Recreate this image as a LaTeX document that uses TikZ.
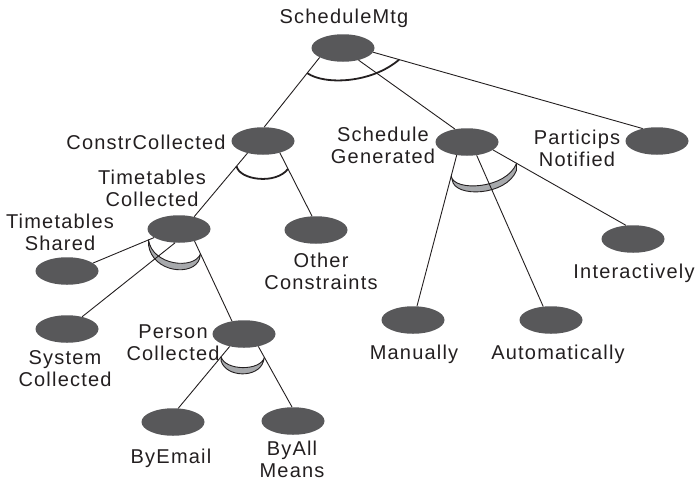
\documentclass[tikz,border=0pt]{standalone}
\usepackage{fontspec}
\setmainfont{Liberation Sans}[LetterSpace=6]
\usetikzlibrary{calc,shapes.geometric}
\definecolor{goalfill}{HTML}{58585A}
\definecolor{orfill}{HTML}{A7A9AC}
\definecolor{ink}{HTML}{231F20}
\begin{document}
\begin{tikzpicture}[x=1pt,y=-1pt,
  goal/.style={ellipse, fill=goalfill, minimum width=63pt, minimum height=27.5pt, inner sep=0pt},
  lbl/.style={inner sep=0pt, align=center, text=ink, font=\fontsize{20}{22.5}\selectfont},
  link/.style={draw=ink, line width=0.9pt},
  andarc/.style={draw=ink, line width=1.8pt},
  orband/.style={draw=ink, fill=orfill, line width=0.9pt, line join=round}]
\useasboundingbox (0,0) rectangle (695,482);

% goals
\node[goal] (mtg)    at (343,48)  {};
\node[goal] (constr) at (263,141) {};
\node[goal] (sched)  at (467,142) {};
\node[goal] (part)   at (657,141) {};
\node[goal] (ttc)    at (179,229) {};
\node[goal] (other)  at (316,230) {};
\node[goal] (tts)    at (67,271)  {};
\node[goal] (sys)    at (67,329)  {};
\node[goal] (person) at (244,334) {};
\node[goal] (inter)  at (633,239) {};
\node[goal] (man)    at (413,320) {};
\node[goal] (auto)   at (551,320) {};
\node[goal] (email)  at (173,422) {};
\node[goal] (all)    at (293,421) {};

% labels
\node[lbl, anchor=base]  (l-mtg)    at (344,23)  {ScheduleMtg};
\node[lbl, anchor=base]  (l-constr) at (146,149) {ConstrCollected};
\node[lbl, anchor=south] (l-ttc)    at (152,207) {Timetables\\Collected};
\node[lbl, anchor=south] (l-tts)    at (60,251)  {Timetables\\Shared};
\node[lbl, anchor=south] (l-sched)  at (383,164) {Schedule\\Generated};
\node[lbl, anchor=south] (l-part)   at (577,167) {Particips\\Notified};
\node[lbl, anchor=south] (l-other)  at (321,290) {Other\\Constraints};
\node[lbl, anchor=base]  (l-inter)  at (634,278) {Interactively};
\node[lbl, anchor=south] (l-person) at (173,361) {Person\\Collected};
\node[lbl, anchor=south] (l-sys)    at (65,387)  {System\\Collected};
\node[lbl, anchor=base]  (l-man)    at (414,359) {Manually};
\node[lbl, anchor=base]  (l-auto)   at (558,359) {Automatically};
\node[lbl, anchor=base]  (l-email)  at (171,463) {ByEmail};
\node[lbl, anchor=south] (l-all)    at (292,478) {ByAll\\Means};

% end points of the decomposition arcs, on the links
\coordinate (mA) at ($(mtg.-158)!20pt!(constr.85)$);
\coordinate (mB) at ($(mtg.-8)!27pt!(part.139)$);
\coordinate (cA) at ($(constr.-142)!17pt!(ttc.39)$);
\coordinate (cB) at ($(constr.-35)!18pt!(other.106)$);
\coordinate (tA) at ($(ttc.-161)!6pt!(tts.17)$);
\coordinate (tB) at ($(ttc.-38)!14pt!(person.133)$);
\coordinate (sA) at ($(sched.-128)!21.5pt!(man.74)$);
\coordinate (sB) at ($(sched.-17)!27pt!(inter.117)$);
\coordinate (pA) at ($(person.-139)!13.5pt!(email.69)$);
\coordinate (pB) at ($(person.-41)!12.5pt!(all.94)$);

% OR-decompositions: shaded bands
\path[orband] (tA) .. controls +(4,26) and +(-6,16) .. (tB) -- ++(-1,5)
  .. controls +(-6,18) and +(4,28) .. ($(tA)+(0,5)$) -- cycle;
\path[orband] (sA) .. controls +(2,16) and +(-10,26) .. (sB) -- ++(0,7)
  .. controls +(-10,26) and +(2,18) .. ($(sA)+(1,4)$) -- cycle;
\path[orband] (pA) .. controls +(4,14) and +(-4,14) .. (pB) -- ++(-1,4)
  .. controls +(-5,17) and +(5,17) .. ($(pA)+(0,4)$) -- cycle;

% links
\draw[link] (mtg.-158) -- (constr.85);
\draw[link] (mtg.-38) -- (sched.133);
\draw[link] (mtg.-8) -- (part.139);
\draw[link] (constr.-142) -- (ttc.39);
\draw[link] (constr.-35) -- (other.106);
\draw[link] (ttc.-161) -- (tts.17);
\draw[link] (ttc.-106) -- (sys.39);
\draw[link] (ttc.-38) -- (person.133);
\draw[link] (sched.-128) -- (man.74);
\draw[link] (sched.-54) -- (auto.120);
\draw[link] (sched.-17) -- (inter.117);
\draw[link] (person.-139) -- (email.69);
\draw[link] (person.-41) -- (all.94);

% AND-decompositions: plain arcs
\draw[andarc] (mA) .. controls +(17,12) and +(-28,24) .. (mB);
\draw[andarc] (cA) .. controls +(3,14) and +(-12,16) .. (cB);
\end{tikzpicture}
\end{document}
